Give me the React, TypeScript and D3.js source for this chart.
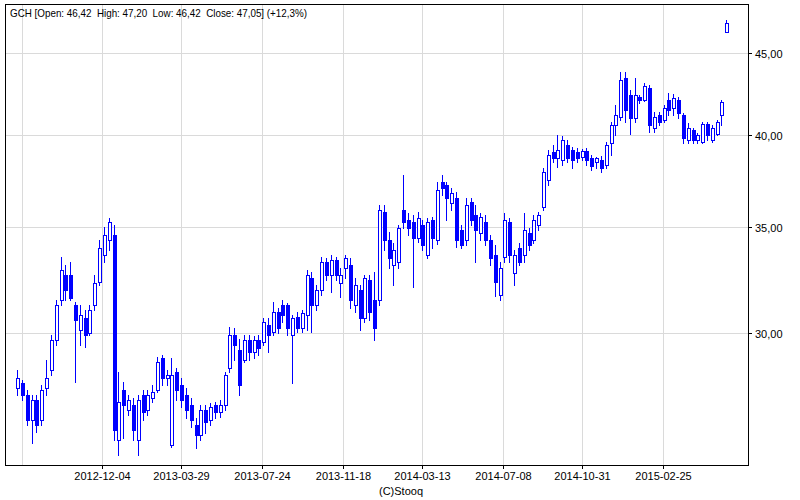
import React from 'react';
import * as d3 from 'd3';

const TITLE = 'GCH [Open: 46,42  High: 47,20  Low: 46,42  Close: 47,05] (+12,3%)';
const CREDIT = '(C)Stooq';
const START_DATE = '2012-08-04';
const DOMAIN_DATES = ['2012-07-16', '2015-06-29'];
const X_TICKS = ['2012-12-04', '2013-03-29', '2013-07-24', '2013-11-18', '2014-03-13', '2014-07-08', '2014-10-31', '2015-02-25'];
const X_GRID_EXTRA = ['2012-08-09'];
const Y_TICKS = [30, 35, 40, 45];
const Y_DOMAIN = [24.79, 48.33];

const open = [
  27.72, 27.92, 27.44, 26.46, 27.24, 26.46, 27.72, 28.45, 29.71, 31.48,
  32.64, 32.64, 31.26, 30.14, 30.67, 30.0, 31.26, 32.32, 33.6, 34.34,
  34.59, 25.71, 27.64, 26.85, 27.05, 25.71, 27.44, 26.85, 27.32, 27.64,
  28.94, 28.12, 25.53, 28.37, 27.84, 27.44, 27.05, 26.27, 25.9, 26.85,
  26.46, 27.05, 26.77, 27.05, 28.53, 29.93, 29.28, 28.86, 29.71, 29.2,
  29.71, 29.63, 30.36, 30.05, 30.94, 31.26, 31.26, 29.93, 30.72, 30.23,
  30.81, 32.5, 31.26, 31.94, 33.27, 32.64, 33.36, 32.27, 32.97, 33.12,
  31.26, 31.94, 30.67, 32.41, 31.48, 31.48, 35.77, 34.34, 33.12, 33.27,
  35.87, 35.35, 35.25, 34.44, 35.1, 33.6, 35.35, 34.34, 37.35, 37.19,
  36.23, 36.49, 34.84, 34.34, 36.28, 35.61, 34.69, 35.25, 34.34, 33.6,
  31.71, 33.5, 35.25, 32.73, 33.95, 33.6, 34.69, 34.34, 35.1, 36.02,
  37.46, 39.01, 38.67, 38.56, 39.41, 39.12, 39.01, 38.73, 39.07, 38.67,
  38.45, 38.56, 38.28, 39.52, 40.56, 41.04, 43.42, 42.36, 40.98, 42.24,
  42.06, 42.79, 40.39, 41.16, 40.86, 42.06, 41.57, 42.06, 41.16, 39.69,
  40.27, 39.69, 39.58, 40.62, 39.69, 40.04, 41.16, 46.42,
];
const high = [
  28.45, 28.04, 27.64, 27.44, 27.44, 27.84, 28.86, 29.93, 31.48, 33.5,
  33.12, 33.27, 31.39, 31.26, 31.03, 31.26, 32.64, 34.34, 35.0, 35.45,
  35.1, 28.37, 27.96, 27.44, 27.32, 27.44, 27.64, 27.64, 27.84, 28.98,
  29.07, 28.45, 28.94, 28.53, 28.12, 27.72, 27.32, 26.54, 27.05, 27.05,
  27.13, 27.16, 27.24, 28.37, 30.27, 30.23, 29.76, 29.93, 29.93, 29.88,
  29.93, 30.67, 30.67, 31.39, 31.12, 31.48, 31.35, 30.81, 30.94, 31.03,
  32.88, 32.78, 32.17, 33.5, 33.45, 33.6, 33.5, 32.97, 33.6, 33.45,
  32.5, 32.17, 32.64, 32.64, 32.78, 36.13, 36.13, 34.74, 34.19, 35.1,
  37.73, 35.71, 35.61, 35.77, 35.35, 35.45, 35.5, 37.35, 37.73, 37.35,
  37.03, 36.81, 35.1, 36.49, 36.49, 36.13, 35.71, 35.61, 34.59, 34.09,
  33.27, 35.71, 35.45, 33.85, 34.19, 35.71, 34.95, 35.61, 35.77, 38.11,
  39.12, 39.41, 39.98, 39.92, 39.69, 39.29, 39.24, 39.18, 39.24, 38.84,
  38.73, 38.78, 39.58, 40.74, 41.75, 43.8, 43.8, 42.67, 43.42, 42.36,
  43.11, 42.98, 41.33, 41.33, 41.75, 42.48, 42.42, 42.24, 41.27, 40.68,
  40.39, 40.1, 40.74, 40.74, 40.56, 40.86, 42.06, 47.2,
];
const low = [
  27.44, 27.24, 26.27, 25.6, 26.01, 26.27, 27.44, 28.24, 29.5, 31.26,
  31.48, 31.48, 27.96, 29.5, 29.41, 29.93, 31.03, 32.17, 33.27, 33.85,
  25.71, 25.16, 25.79, 26.66, 25.71, 25.16, 26.46, 26.66, 27.16, 27.56,
  27.84, 27.84, 25.45, 27.24, 26.97, 26.54, 26.19, 25.41, 25.71, 25.97,
  26.27, 26.54, 26.58, 26.85, 28.37, 28.86, 27.44, 28.78, 28.86, 28.94,
  29.07, 29.5, 29.2, 29.93, 30.0, 30.49, 29.93, 27.92, 30.05, 30.05,
  30.14, 30.05, 31.03, 31.71, 32.41, 31.85, 32.41, 31.62, 32.5, 31.12,
  30.94, 30.14, 30.49, 30.58, 29.71, 31.26, 33.85, 32.97, 32.17, 32.97,
  34.95, 34.59, 32.08, 34.24, 33.85, 33.45, 33.95, 34.14, 36.65, 35.35,
  35.87, 33.99, 33.95, 34.09, 35.1, 33.27, 34.34, 34.09, 33.12, 31.66,
  31.48, 33.27, 33.27, 32.17, 33.12, 33.27, 33.85, 34.19, 34.84, 35.87,
  37.19, 38.45, 38.17, 38.28, 38.45, 38.11, 38.45, 38.56, 38.28, 38.0,
  38.11, 37.89, 38.11, 38.84, 39.98, 40.86, 40.74, 40.04, 40.74, 41.88,
  42.0, 40.16, 40.16, 40.56, 40.74, 41.16, 41.16, 40.98, 39.52, 39.52,
  39.52, 39.52, 39.52, 39.69, 39.58, 39.98, 40.56, 46.42,
];
const close = [
  28.12, 27.44, 26.46, 27.24, 26.27, 27.64, 28.12, 29.71, 31.26, 32.88,
  31.94, 31.57, 30.58, 30.81, 29.93, 31.03, 32.27, 33.95, 34.59, 35.25,
  26.08, 27.16, 27.05, 27.24, 26.08, 27.24, 26.77, 27.44, 27.56, 28.78,
  28.12, 28.24, 28.24, 27.64, 27.24, 26.85, 26.46, 25.9, 26.85, 26.38,
  26.97, 26.77, 27.05, 28.24, 29.93, 29.5, 27.84, 29.71, 29.2, 29.71,
  29.37, 30.49, 29.93, 30.94, 30.23, 30.81, 30.23, 30.67, 30.23, 30.9,
  32.64, 31.26, 31.94, 33.27, 32.64, 33.36, 32.64, 32.64, 33.45, 31.48,
  32.17, 30.67, 32.5, 30.94, 30.23, 35.87, 34.34, 33.45, 33.85, 34.95,
  35.25, 34.95, 34.44, 35.45, 34.09, 35.25, 34.44, 36.92, 37.03, 36.49,
  36.76, 34.34, 34.09, 36.13, 35.35, 34.84, 35.5, 34.34, 33.45, 32.32,
  32.97, 35.35, 33.6, 33.6, 33.27, 34.84, 34.09, 35.35, 35.61, 37.89,
  38.84, 38.67, 39.12, 39.69, 38.67, 38.56, 38.67, 39.07, 38.56, 38.22,
  38.67, 38.11, 39.41, 40.56, 41.16, 43.3, 41.45, 40.98, 42.36, 42.06,
  42.92, 40.56, 41.04, 40.74, 41.57, 41.45, 42.18, 41.27, 39.81, 40.39,
  39.69, 39.98, 40.62, 39.98, 40.39, 40.74, 41.94, 47.05,
];

const BLUE = '#0000ff';
const GRID = '#dadada';
const FONT = '"Liberation Sans", Arial, sans-serif';

export default function App() {
  const parse = d3.timeParse('%Y-%m-%d');
  const left = 5, right = 748, top = 4, bottom = 465;
  const x = d3.scaleTime()
    .domain(DOMAIN_DATES.map((s) => parse(s) as Date))
    .range([left, right]);
  const y = d3.scaleLog().domain(Y_DOMAIN).range([bottom, top]);
  const start = parse(START_DATE) as Date;
  const dates = open.map((_, i) => d3.timeDay.offset(start, 7 * i));
  const fmt = (v: number) => d3.format('.2f')(v).replace('.', ',');

  const candles = open.map((o, i) => {
    const c = close[i];
    const cx = Math.round(x(dates[i]));
    const l = cx - 2;
    const yTop = Math.round(y(Math.max(o, c)));
    const yBot = Math.round(y(Math.min(o, c)));
    const yH = Math.round(y(high[i]));
    const yL = Math.round(y(low[i]));
    const up = c >= o;
    return (
      <g key={i}>
        <line x1={l + 1.5} x2={l + 1.5} y1={yH} y2={yL + 1} stroke={BLUE} strokeWidth={1} />
        <rect
          x={l + 0.5}
          y={yTop + 0.5}
          width={3}
          height={Math.max(yBot - yTop, 0)}
          fill={up ? '#ffffff' : BLUE}
          stroke={BLUE}
          strokeWidth={1}
        />
      </g>
    );
  });

  return (
    <svg
      width={800}
      height={500}
      style={{ position: 'absolute', left: 0, top: 0, background: '#fff' }}
      fontFamily={FONT}
      fontSize={11}
    >
      <rect x={0} y={0} width={800} height={500} fill="#fff" />
      <g shapeRendering="crispEdges">
        {[...X_GRID_EXTRA, ...X_TICKS].map((d) => {
          const gx = Math.round(x(parse(d) as Date)) + 0.5;
          return <line key={d} x1={gx} x2={gx} y1={top} y2={bottom} stroke={GRID} strokeWidth={1} />;
        })}
        {Y_TICKS.map((v) => {
          const gy = Math.round(y(v)) + 0.5;
          return <line key={v} x1={left} x2={right} y1={gy} y2={gy} stroke={GRID} strokeWidth={1} />;
        })}
      </g>
      <g shapeRendering="crispEdges">{candles}</g>
      <rect
        x={left + 0.5}
        y={top + 0.5}
        width={right - left}
        height={bottom - top}
        fill="none"
        stroke="#000"
        strokeWidth={1}
        shapeRendering="crispEdges"
      />
      <g shapeRendering="crispEdges">
        {X_TICKS.map((d) => {
          const tx = Math.round(x(parse(d) as Date)) + 0.5;
          return (
            <g key={d}>
              <line x1={tx} x2={tx} y1={bottom} y2={bottom + 4} stroke="#000" />
              <text x={tx} y={480} textAnchor="middle" fill="#000">{d}</text>
            </g>
          );
        })}
        {Y_TICKS.map((v) => {
          const ty = Math.round(y(v)) + 0.5;
          return (
            <g key={v}>
              <line x1={right} x2={right + 4} y1={ty} y2={ty} stroke="#000" />
              <text x={755} y={ty + 4} fill="#000">{fmt(v)}</text>
            </g>
          );
        })}
      </g>
      <text
        x={10}
        y={17}
        fill="#000"
        style={{ whiteSpace: 'pre' }}
        xmlSpace="preserve"
        textLength={297}
        lengthAdjust="spacingAndGlyphs"
      >
        {TITLE}
      </text>
      <text x={401} y={495} textAnchor="middle" fill="#000">{CREDIT}</text>
    </svg>
  );
}
